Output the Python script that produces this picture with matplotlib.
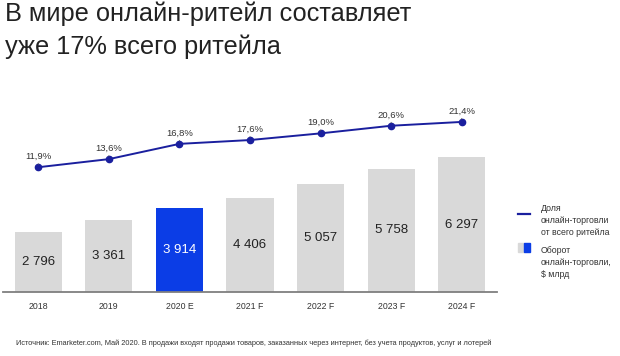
import matplotlib
matplotlib.use('Agg')
import matplotlib.pyplot as plt
from matplotlib.lines import Line2D
from matplotlib.patches import Rectangle

plt.rcParams['font.family'] = ['Liberation Sans', 'DejaVu Sans']

years = ['2018', '2019', '2020 E', '2021 F', '2022 F', '2023 F', '2024 F']
turnover = [2796, 3361, 3914, 4406, 5057, 5758, 6297]
share = [11.9, 13.6, 16.8, 17.6, 19.0, 20.6, 21.4]
highlight = '2020 E'

gray = '#d9d9d9'
blue = '#0b3de6'
navy = '#1a1f9e'

fig = plt.figure(figsize=(6.2, 3.56), dpi=100)
ax = fig.add_axes([3/620, 64/356, 494/620, 182/356])

x = list(range(len(years)))
colors = [blue if y == highlight else gray for y in years]
ax.bar(x, turnover, width=0.67, color=colors, zorder=2)
for i, v in enumerate(turnover):
    txt = '{:,}'.format(v).replace(',', ' ')
    ax.text(i, v / 2, txt, ha='center', va='center', fontsize=9.5,
            color='white' if years[i] == highlight else '#222222')

ax.set_xlim(-0.5, 6.5)
ax.set_ylim(0, 8490)
ax.set_xticks(x)
ax.set_xticklabels(years, fontsize=6.3, color='#333333')
ax.tick_params(axis='x', length=0, pad=7)
ax.set_yticks([])
for s in ['top', 'right', 'left']:
    ax.spines[s].set_visible(False)
ax.spines['bottom'].set_color('#7f7f7f')
ax.spines['bottom'].set_linewidth(1.3)
ax.patch.set_alpha(0)

ax2 = ax.twinx()
ax2.plot(x, share, color=navy, lw=1.4, marker='o', ms=4.5, zorder=3)
ax2.set_ylim(-14.26, 23.9)
ax2.axis('off')
for i, v in enumerate(share):
    ax2.annotate('{:.1f}%'.format(v).replace('.', ','), (i, v),
                 xytext=(0, 4.5), textcoords='offset points',
                 ha='center', va='bottom', fontsize=6.8, color='#333333',
                 arrowprops=dict(arrowstyle='-', color='#555555', lw=0.6,
                                 shrinkA=0, shrinkB=2))

# title
fig.text(5/620, 1 - 21/356, 'В мире онлайн-ритейл составляет',
         ha='left', va='baseline', fontsize=18.3, color='#222222')
fig.text(5/620, 1 - 54/356, 'уже 17% всего ритейла',
         ha='left', va='baseline', fontsize=18.3, color='#222222')

# legend
fig.add_artist(Line2D([518/620, 530/620], [1 - 214/356, 1 - 214/356],
                      color=navy, lw=1.6, transform=fig.transFigure))
fig.text(541/620, 1 - 204/356, 'Доля\nонлайн-торговли\nот всего ритейла',
         ha='left', va='top', fontsize=6.3, color='#333333', linespacing=1.45)
fig.add_artist(Rectangle((518/620, 1 - 252/356), 6/620, 9/356,
                         color=gray, transform=fig.transFigure))
fig.add_artist(Rectangle((524/620, 1 - 252/356), 6/620, 9/356,
                         color=blue, transform=fig.transFigure))
fig.text(541/620, 1 - 246/356, 'Оборот\nонлайн-торговли,\n$ млрд',
         ha='left', va='top', fontsize=6.3, color='#333333', linespacing=1.45)

# source
fig.text(16/620, 1 - 343/356,
         'Источник: Emarketer.com, Май 2020. В продажи входят продажи товаров, '
         'заказанных через интернет, без учета продуктов, услуг и лотерей',
         ha='left', va='center', fontsize=5.3, color='#333333')

fig.savefig('out.png', dpi=100)
